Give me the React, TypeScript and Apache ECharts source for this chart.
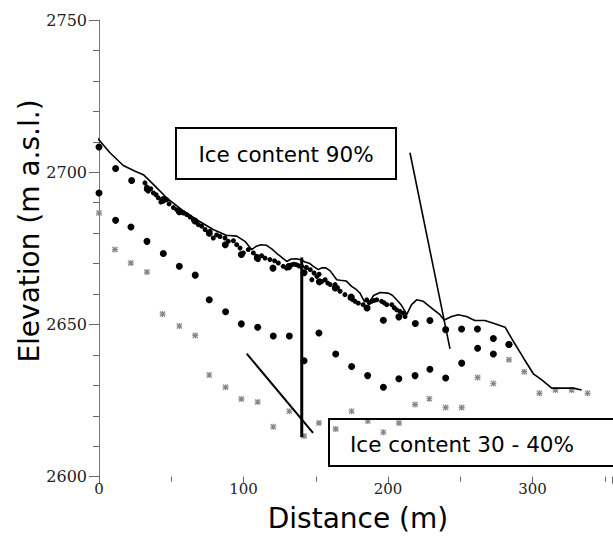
import React, { useEffect, useRef } from "react";
import * as echarts from "echarts";

// Axis ticks
const xMajorTicks = [0, 100, 200, 300];
const yMajorTicks = [2600, 2650, 2700, 2750];

// Surface profile (solid line): [distance m, elevation m a.s.l.]
const surfaceProfile: [number, number][] = [
  [-2.5, 2712], [7.6, 2706.4], [16.8, 2702.2], [25, 2700.3], [30.7, 2699.2], [37.6, 2696],
  [46.8, 2691.6], [57.2, 2687.7], [67.6, 2684.4], [79, 2681.2], [88, 2679.3], [95.3, 2679],
  [101, 2677.3], [105.6, 2674.6], [108.5, 2675.6], [112, 2676.2], [116, 2676], [119.5, 2674.8],
  [124.1, 2672.9], [129.9, 2670.7], [133, 2671.5], [136.8, 2671.6], [140, 2671.2], [142.6, 2670.5],
  [146, 2670], [148.3, 2669.1], [151.8, 2668], [154, 2668.6], [157, 2668.6], [160, 2667.6],
  [164.5, 2664.7], [167, 2664.5], [171, 2664.3], [174.8, 2662.5], [178, 2661.5], [180.6, 2660.3],
  [183.6, 2657.6], [187.5, 2657.6], [190, 2659.5], [194.5, 2660.5], [200.2, 2660.3], [203, 2659.6],
  [206, 2658.1], [209, 2656.5], [211.8, 2654.3], [212.9, 2653.2], [216.3, 2656.5], [219.8, 2658.1],
  [224.4, 2657.6], [230.2, 2655.4], [235.9, 2653.2], [238.9, 2651.5], [244, 2652.6], [248.6, 2653.2],
  [254.3, 2652.6], [260.1, 2651.3], [267, 2651.3], [274, 2650.2], [281, 2649.1], [286.8, 2644.4],
  [293.7, 2639], [300.6, 2633.8], [306.4, 2631.8], [313.3, 2629.1], [328.2, 2629.1], [334, 2628.5],
];

// Dense small surface points
const surfacePoints: [number, number][] = [
  [31.8, 2696.5], [33, 2695.2], [34.1, 2693.8], [35.8, 2694.6], [37.6, 2693.2], [39.5, 2692.6],
  [41, 2691.6], [42.8, 2690.2], [44.5, 2690.5], [46.8, 2691], [48.5, 2689.6], [51.5, 2688.4],
  [53.8, 2687.7], [56, 2686.8], [58.4, 2686.6], [60.7, 2686.1], [63, 2685.3], [65.3, 2684.4],
  [68.7, 2682.8], [71, 2682.3], [73.4, 2681.2], [76.8, 2680.6], [79.1, 2678.4], [81.4, 2679.4],
  [83.7, 2678.9], [87.2, 2678.4], [89.5, 2677.3], [93, 2677.5], [95.3, 2676.2], [97.6, 2675.1],
  [99.9, 2673.5], [103.3, 2674.6], [106.8, 2673.5], [109.1, 2672.4], [110.2, 2671.3], [112.5, 2672.6],
  [114.9, 2671.8], [118.3, 2671.3], [121.5, 2670.9], [124.1, 2670.2], [127.5, 2669.1], [129.9, 2668.5],
  [131.6, 2669.4], [133.3, 2669.6], [135, 2669.8], [136.8, 2669.6], [138.5, 2669.2], [140.3, 2669.1],
  [143.5, 2668.7], [146.2, 2668], [147.3, 2664.7], [148.8, 2666.9], [150.8, 2665.8], [152.3, 2666.5],
  [154.1, 2664.1], [156.5, 2664.7], [158.3, 2663.6], [160, 2663.1], [163.4, 2663.1], [165, 2662.1],
  [166.8, 2660.9], [170.2, 2659.8], [173.7, 2658.7], [175.5, 2658.2], [177.2, 2657.6], [179.4, 2657],
  [182.8, 2656.5], [185.3, 2658.1], [187, 2657.2], [188.7, 2657.6], [190.5, 2657.9], [192.2, 2658.1],
  [195.6, 2657.6], [197.4, 2657.1], [199.1, 2656.5], [202.6, 2656.5], [204.3, 2655.5], [206, 2654.8],
  [208.3, 2654.3], [210.6, 2653.7], [211.8, 2652.6],
];

// Modelled profile, ice content 90% (large dots)
const ice90: [number, number][] = [
  [0, 2708.3], [11.5, 2701.2], [22.6, 2697.3], [33.4, 2694.5], [44.5, 2691], [55.6, 2687],
  [66.4, 2684], [76.3, 2680], [87.4, 2676.2], [98.5, 2673], [109.5, 2671.8], [120.4, 2668.5],
  [131.3, 2669], [141.9, 2667], [152.5, 2664], [163.5, 2662], [174.5, 2659], [185.5, 2655.4],
  [196.8, 2651.4], [207.5, 2652.5], [218.9, 2650.3], [229, 2651.3], [239.9, 2648.3], [250.9, 2648.5],
  [261.9, 2648.5], [272.9, 2645.4], [283.7, 2643.4],
];

// Intermediate modelled profile (large dots)
const iceMid: [number, number][] = [
  [0, 2693.2], [11.5, 2684.2], [22.1, 2682], [33.2, 2677.3], [44.5, 2673.3], [55.6, 2669.1],
  [66.6, 2666.2], [76.3, 2658.1], [87.6, 2654.2], [98.5, 2650.2], [109.8, 2649.1], [120.6, 2646.2],
  [131.7, 2646.2], [141.9, 2638.1], [152.2, 2647.2], [163.8, 2640.3], [174.8, 2636.2], [185.9, 2633.2],
  [196.8, 2629.4], [207.5, 2632.2], [218.7, 2633.2], [229, 2635.3], [239.9, 2632.4], [251, 2637.3],
  [262, 2642.2], [272.9, 2640.3], [283.7, 2643.4],
];

// Modelled profile, ice content 30 - 40% (grey asterisks)
const ice30: [number, number][] = [
  [0, 2686.6], [11, 2674.6], [22, 2670.2], [33.2, 2667.2], [44, 2653.4], [55.6, 2649.5],
  [66.6, 2646.4], [76.3, 2633.4], [87.6, 2629.4], [98.5, 2625.5], [109.8, 2624.5], [120.6, 2616.4],
  [131.7, 2621.5], [141.9, 2613.4], [152.2, 2617.6], [163.8, 2615.7], [174.8, 2621.5], [186, 2618.3],
  [196.8, 2614.6], [207.6, 2617.6], [218.7, 2623.7], [228.6, 2625.6], [239.9, 2622.7], [251, 2622.7],
  [262, 2632.6], [272.9, 2630.6], [283.7, 2638.4], [294.3, 2634.5], [304.8, 2627.4], [315.9, 2628.5],
  [327.1, 2628.5], [338.1, 2627.4],
];

// Annotation lines (data coordinates)
const verticalMarker: [number, number][] = [[140.3, 2613], [140.3, 2672]];
const pointer90: [number, number][] = [[215.2, 2706.4], [242.9, 2642]];
const pointer30: [number, number][] = [[102.2, 2640.4], [148.1, 2614.4]];

const label90 = "Ice content 90%";
const label30 = "Ice content 30 - 40%";

const asteriskPath =
  "path://M4 0H6V10H4Z M0 4H10V6H0Z M1.4 0L10 8.6L8.6 10L0 1.4Z M8.6 0L10 1.4L1.4 10L0 8.6Z";

export default function App() {
  const ref = useRef<HTMLDivElement>(null);
  useEffect(() => {
    if (!ref.current) return;
    const chart = echarts.init(ref.current, undefined, { renderer: "svg" });
    const sansFont = "'DejaVu Sans', Verdana, sans-serif";
    const serifFont = "'DejaVu Serif', serif";
    const lineSeries = (data: [number, number][], width: number) => ({
      type: "line",
      data,
      symbol: "none",
      lineStyle: { color: "#000", width },
      clip: false,
      silent: true,
    });
    chart.setOption({
      animation: false,
      backgroundColor: "#fff",
      grid: { left: 99, top: 20, right: 1, bottom: 61.3, containLabel: false },
      xAxis: {
        type: "value",
        min: 0,
        max: 355,
        interval: 100,
        axisLine: { show: false },
        axisTick: { show: true, length: 7, lineStyle: { color: "#666", width: 1 } },
        minorTick: { show: true, splitNumber: 2, length: 5, lineStyle: { color: "#666", width: 1 } },
        splitLine: { show: false },
        axisLabel: {
          margin: 5,
          fontFamily: serifFont,
          fontSize: 15,
          color: "#222",
          showMaxLabel: false,
          formatter: (v: number) => (xMajorTicks.includes(v) ? String(v) : ""),
        },
      },
      yAxis: {
        type: "value",
        min: 2600,
        max: 2750,
        interval: 50,
        axisLine: { show: true, lineStyle: { color: "#777", width: 1 } },
        axisTick: { show: true, length: 10, lineStyle: { color: "#666", width: 1 } },
        minorTick: { show: true, splitNumber: 5, length: 6, lineStyle: { color: "#666", width: 1 } },
        splitLine: { show: false },
        axisLabel: {
          margin: 12,
          fontFamily: serifFont,
          fontSize: 16,
          color: "#222",
          formatter: (v: number) => (yMajorTicks.includes(v) ? String(v) : ""),
        },
      },
      series: [
        lineSeries(surfaceProfile, 1.6),
        {
          type: "scatter",
          data: ice30,
          symbol: asteriskPath,
          symbolSize: 6,
          itemStyle: { color: "#888", opacity: 1 },
          clip: false,
        },
        {
          type: "scatter",
          data: surfacePoints,
          symbol: "circle",
          symbolSize: 5,
          itemStyle: { color: "#000", opacity: 1 },
        },
        {
          type: "scatter",
          data: ice90,
          symbol: "circle",
          symbolSize: 7,
          itemStyle: { color: "#000", opacity: 1 },
          clip: false,
        },
        {
          type: "scatter",
          data: iceMid,
          symbol: "circle",
          symbolSize: 7,
          itemStyle: { color: "#000", opacity: 1 },
          clip: false,
        },
        lineSeries(verticalMarker, 3),
        lineSeries(pointer90, 1.6),
        lineSeries(pointer30, 2),
      ],
      graphic: [
        {
          type: "rect",
          shape: { x: 176, y: 128, width: 220, height: 51 },
          style: { fill: "none", stroke: "#000", lineWidth: 2 },
          z: 10,
        },
        {
          type: "text",
          x: 286,
          y: 154,
          style: {
            text: label90,
            fontFamily: sansFont,
            fontSize: 21.5,
            fill: "#000",
            textAlign: "center",
            textVerticalAlign: "middle",
          },
          z: 10,
        },
        {
          type: "rect",
          shape: { x: 329, y: 419, width: 330, height: 47 },
          style: { fill: "none", stroke: "#000", lineWidth: 2 },
          z: 10,
        },
        {
          type: "text",
          x: 350,
          y: 444,
          style: {
            text: label30,
            fontFamily: sansFont,
            fontSize: 21.5,
            fill: "#000",
            textAlign: "left",
            textVerticalAlign: "middle",
          },
          z: 10,
        },
        {
          type: "text",
          x: 29,
          y: 231,
          rotation: Math.PI / 2,
          style: {
            text: "Elevation (m a.s.l.)",
            fontFamily: sansFont,
            fontSize: 28,
            fill: "#000",
            textAlign: "center",
            textVerticalAlign: "middle",
          },
        },
        {
          type: "text",
          x: 358,
          y: 518,
          style: {
            text: "Distance (m)",
            fontFamily: sansFont,
            fontSize: 28,
            fill: "#000",
            textAlign: "center",
            textVerticalAlign: "middle",
          },
        },
      ],
    });
    return () => chart.dispose();
  }, []);
  return (
    <div
      ref={ref}
      style={{ position: "fixed", left: 0, top: 0, width: 613, height: 538 }}
    />
  );
}
